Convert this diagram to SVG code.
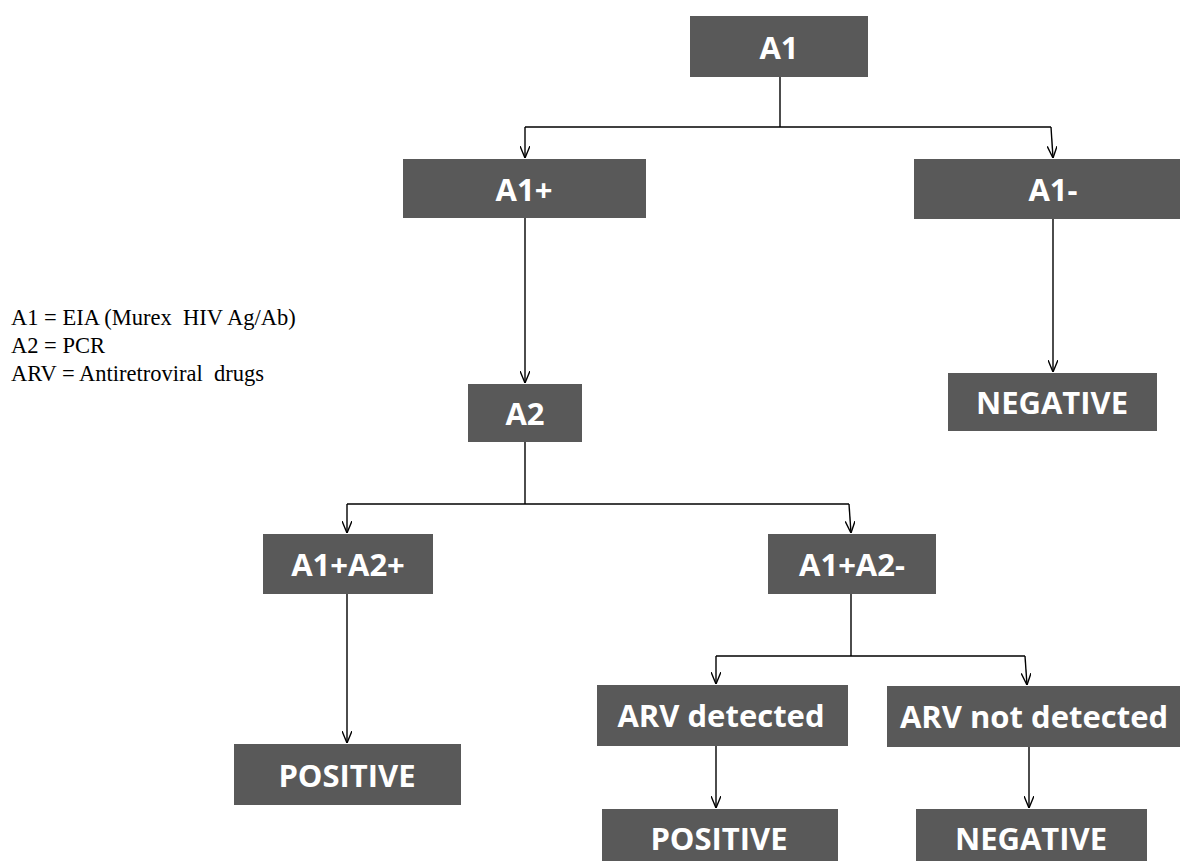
<svg xmlns="http://www.w3.org/2000/svg" width="1180" height="861" viewBox="0 0 1180 861">
<defs>
<marker id="arr" viewBox="0 0 12 10" refX="12" refY="5" markerWidth="12" markerHeight="10" markerUnits="userSpaceOnUse" orient="auto">
<path d="M0,0 L12,5 L0,10" fill="none" stroke="#000" stroke-width="1.4"/>
</marker>
<style>
.box{fill:#595959}
.lbl{fill:#fff;font-family:"Open Sans","Liberation Sans",sans-serif;font-weight:bold;font-size:31px;text-anchor:middle;dominant-baseline:central}
.con{fill:none;stroke:#000;stroke-width:1.4}
.leg{font-family:"Liberation Serif",serif;font-size:22.5px;fill:#000}
</style>
</defs>
<rect width="1180" height="861" fill="#fff"/>
<g id="legend">
<text class="leg" x="11" y="325" xml:space="preserve">A1 = EIA (Murex  HIV Ag/Ab)</text>
<text class="leg" x="11" y="353">A2 = PCR</text>
<text class="leg" x="11" y="381" xml:space="preserve">ARV = Antiretroviral  drugs</text>
</g>
<g id="connectors">
<polyline class="con" points="780,77 780,127"/>
<polyline class="con" points="525,127 1051,127"/>
<polyline class="con" points="525,127 525,158" marker-end="url(#arr)"/>
<polyline class="con" points="1051,127 1053,158" marker-end="url(#arr)"/>
<polyline class="con" points="525,218 525,383" marker-end="url(#arr)"/>
<polyline class="con" points="1053,219 1053,372" marker-end="url(#arr)"/>
<polyline class="con" points="525,442 525,504"/>
<polyline class="con" points="347,504 849,504"/>
<polyline class="con" points="347,504 347,533" marker-end="url(#arr)"/>
<polyline class="con" points="849,504 851,533" marker-end="url(#arr)"/>
<polyline class="con" points="347,594 347,743" marker-end="url(#arr)"/>
<polyline class="con" points="851,594 851,656"/>
<polyline class="con" points="716,656 1025,656"/>
<polyline class="con" points="716,656 716,684" marker-end="url(#arr)"/>
<polyline class="con" points="1025,656 1027,685" marker-end="url(#arr)"/>
<polyline class="con" points="716,746 716,808" marker-end="url(#arr)"/>
<polyline class="con" points="1029,747 1029,808" marker-end="url(#arr)"/>
</g>
<g id="n-a1"><rect class="box" x="690" y="16" width="178" height="61"/><text class="lbl" x="779" y="47">A1</text></g>
<g id="n-a1pos"><rect class="box" x="403" y="159" width="243" height="59"/><text class="lbl" x="524" y="189">A1+</text></g>
<g id="n-a1neg"><rect class="box" x="914" y="159" width="266" height="60"/><text class="lbl" x="1053" y="189">A1-</text></g>
<g id="n-a2"><rect class="box" x="468" y="384" width="114" height="58"/><text class="lbl" x="525" y="413">A2</text></g>
<g id="n-neg1"><rect class="box" x="948" y="373" width="209" height="58"/><text class="lbl" x="1052" y="402">NEGATIVE</text></g>
<g id="n-a1a2pos"><rect class="box" x="263" y="534" width="170" height="60"/><text class="lbl" x="348" y="564">A1+A2+</text></g>
<g id="n-a1a2neg"><rect class="box" x="768" y="534" width="168" height="60"/><text class="lbl" x="852" y="564">A1+A2-</text></g>
<g id="n-pos1"><rect class="box" x="234" y="744" width="227" height="61"/><text class="lbl" x="347" y="775">POSITIVE</text></g>
<g id="n-arvdet"><rect class="box" x="597" y="685" width="251" height="61"/><text class="lbl" x="721" y="715">ARV detected</text></g>
<g id="n-arvnot"><rect class="box" x="887" y="686" width="293" height="61"/><text class="lbl" x="1034" y="716">ARV not detected</text></g>
<g id="n-pos2"><rect class="box" x="602" y="809" width="236" height="60"/><text class="lbl" x="719" y="838">POSITIVE</text></g>
<g id="n-neg2"><rect class="box" x="916" y="809" width="231" height="60"/><text class="lbl" x="1031" y="838">NEGATIVE</text></g>
</svg>
